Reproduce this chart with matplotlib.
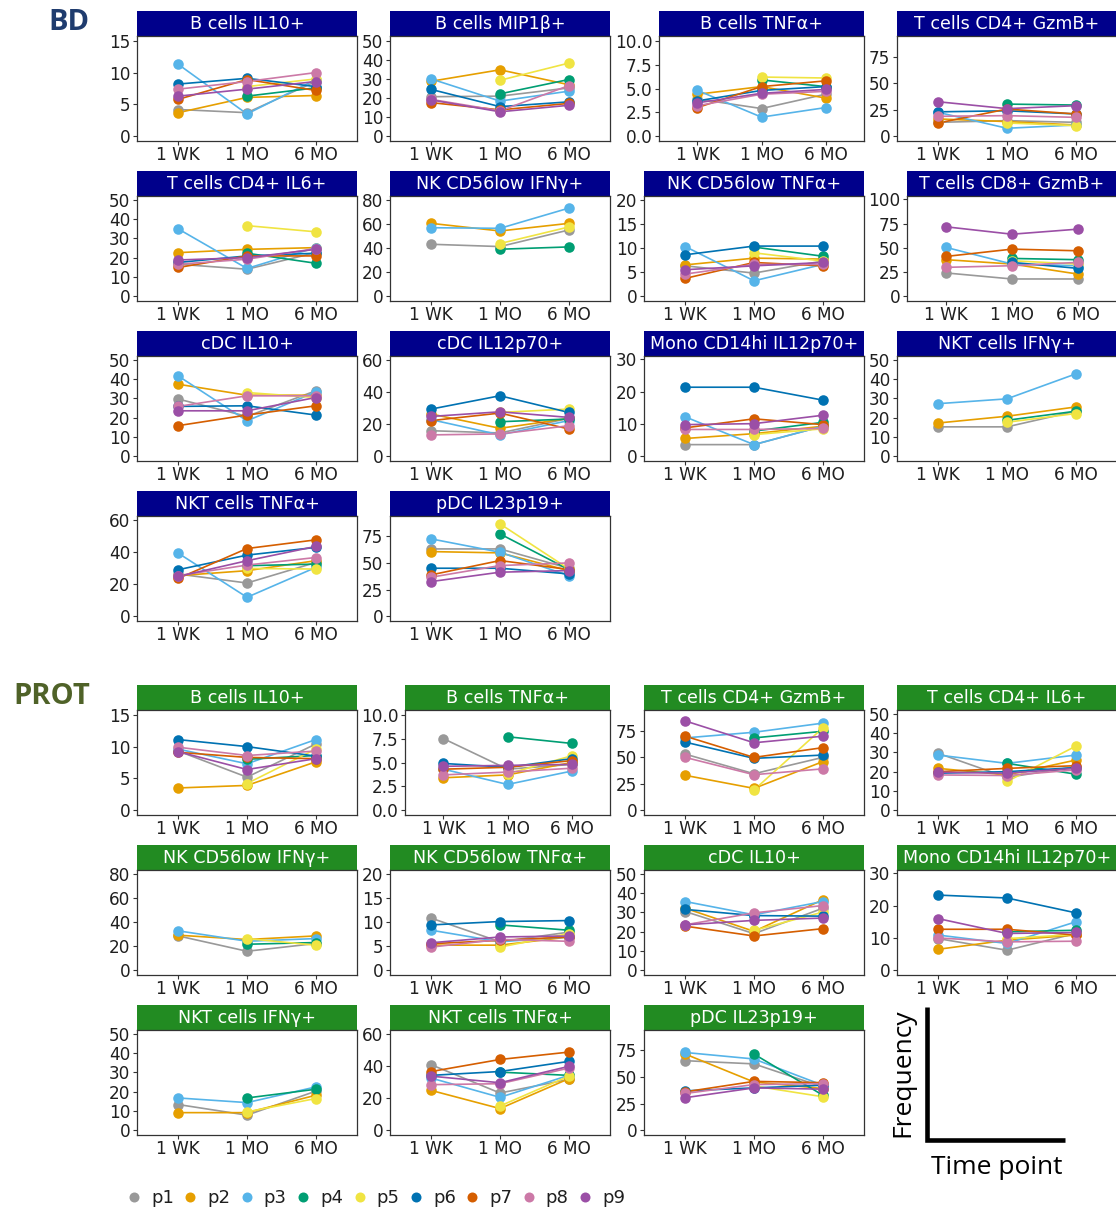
import numpy as np
import matplotlib.pyplot as plt

nan = np.nan

times = ["1 WK", "1 MO", "6 MO"]
patients = ["p1", "p2", "p3", "p4", "p5", "p6", "p7", "p8", "p9"]
colors = ["#999999", "#E69F00", "#56B4E9", "#009E73", "#F0E442",
          "#0072B2", "#D55E00", "#CC79A7", "#9B4FA6"]

# each table: one row per patient (p1..p9), columns 1 WK, 1 MO, 6 MO
# ---------------- BD ----------------
bd_bcell_il10 = [[4.2, 3.7, 8.6], [3.7, 6.1, 6.4], [11.3, 3.5, 8.9],
                 [nan, 6.3, 7.6], [nan, 7.8, 9.0], [8.2, 9.1, 7.8],
                 [5.8, 8.9, 7.2], [7.4, 8.6, 10.0], [6.3, 7.4, 8.6]]
bd_bcell_mip1b = [[20.7, 21.0, 25.3], [28.8, 34.8, 27.0], [30.0, 18.4, 23.6],
                  [nan, 22.2, 29.7], [nan, 29.3, 38.3], [24.5, 15.5, 18.0],
                  [17.6, 13.8, 17.2], [19.3, 13.3, 26.5], [19.0, 12.8, 16.2]]
bd_bcell_tnfa = [[3.9, 2.9, 4.4], [4.4, 5.2, 4.0], [4.8, 2.0, 3.0],
                 [nan, 5.9, 5.2], [nan, 6.2, 6.1], [3.7, 4.8, 5.2],
                 [3.0, 5.2, 5.8], [3.2, 4.4, 4.7], [3.5, 4.5, 4.9]]
bd_cd4_gzmb = [[13.1, 14.7, 13.1], [16.3, 13.8, 10.6], [22.5, 7.5, 10.6],
               [nan, 30.3, 29.4], [nan, 12.5, 10.0], [23.0, 24.0, 21.0],
               [12.5, 25.6, 21.0], [18.8, 19.4, 17.8], [32.5, 26.0, 28.8]]
bd_cd4_il6 = [[16.6, 14.0, 22.6], [22.6, 24.3, 25.2], [34.9, 14.4, 25.2],
              [nan, 22.3, 17.1], [nan, 36.6, 33.4], [17.5, 20.9, 22.3],
              [14.9, 20.9, 20.9], [16.6, 19.2, 24.7], [18.8, 20.0, 24.3]]
bd_nk_ifng = [[43.0, 41.1, 54.8], [60.3, 54.0, 60.3], [56.7, 56.2, 72.9],
              [nan, 38.9, 40.8], [nan, 43.6, 57.3], [nan, nan, nan],
              [nan, nan, nan], [nan, nan, nan], [nan, nan, nan]]
bd_nk_tnfa = [[6.3, 4.8, 7.3], [6.5, 7.9, 7.7], [10.3, 3.2, 6.6],
              [nan, 10.2, 8.3], [nan, 9.0, 7.3], [8.6, 10.4, 10.4],
              [3.7, 7.0, 6.3], [4.6, 6.6, 6.6], [5.5, 6.3, 7.0]]
bd_cd8_gzmb = [[24.0, 17.8, 17.8], [37.7, 33.2, 22.9], [50.3, 33.2, 31.5],
               [nan, 39.0, 37.7], [nan, 36.6, 33.2], [nan, 34.9, 28.8],
               [41.1, 48.6, 46.9], [29.8, 31.5, 34.9], [71.6, 64.0, 69.2]]
bd_cdc_il10 = [[29.7, 20.7, 34.0], [37.4, 31.7, 31.7], [41.7, 18.4, 33.4],
               [nan, nan, nan], [nan, 33.1, 30.5], [25.9, 26.2, 21.4],
               [15.9, 21.4, 26.2], [25.9, 31.4, 31.4], [23.6, 23.6, 30.5]]
bd_cdc_il12 = [[15.9, 14.5, 23.6], [26.3, 17.4, 23.6], [22.8, 13.3, 22.2],
               [nan, 21.5, 23.2], [nan, 27.3, 29.4], [29.4, 37.7, 27.3],
               [22.2, 26.9, 17.0], [13.3, 13.9, 19.0], [24.8, 27.7, 24.2]]
bd_mono_il12 = [[3.6, 3.6, 9.3], [5.5, 7.0, 9.3], [12.2, 3.6, 9.3],
                [nan, 7.8, 10.5], [nan, 6.7, 8.5], [21.4, 21.4, 17.4],
                [8.8, 11.6, 9.8], [8.3, 8.3, 8.6], [9.8, 10.1, 12.7]]
bd_nkt_ifng = [[15.2, 15.2, 23.3], [17.2, 20.7, 25.5], [27.2, 29.7, 42.6],
               [nan, 18.6, 23.3], [nan, 17.6, 22.1], [nan, nan, nan],
               [nan, nan, nan], [nan, nan, nan], [nan, nan, nan]]
bd_nkt_tnfa = [[26.3, 20.7, 33.5], [25.3, 28.4, 34.6], [39.3, 11.8, 30.4],
               [nan, 31.5, 32.5], [nan, 29.8, 29.4], [29.0, 38.1, 42.9],
               [23.6, 42.2, 47.6], [25.3, 31.9, 36.6], [24.8, 34.6, 43.5]]
bd_pdc_il23 = [[63.1, 63.1, 45.0], [60.6, 59.4, 42.8], [72.5, 60.0, 38.1],
               [nan, 77.2, 43.8], [nan, 86.6, 44.4], [45.0, 45.0, 39.7],
               [38.8, 52.2, 43.8], [36.6, 47.5, 50.0], [32.5, 41.3, 42.8]]

# ---------------- PROT ----------------
prot_bcell_il10 = [[9.3, 5.2, 10.4], [3.5, 3.9, 7.6], [9.6, 7.3, 11.1],
                   [nan, 8.0, 8.6], [nan, 4.2, 9.6], [11.1, 10.0, 8.5],
                   [9.1, 8.3, 8.1], [9.9, 8.6, 9.3], [9.2, 6.4, 8.1]]
prot_bcell_tnfa = [[7.5, 4.3, 4.8], [3.4, 3.7, 5.0], [4.3, 2.7, 4.1],
                   [nan, 7.7, 7.0], [nan, 3.8, 5.7], [4.9, 4.5, 5.4],
                   [4.3, 4.5, 5.2], [3.7, 4.0, 4.4], [4.6, 4.7, 4.8]]
prot_cd4_gzmb = [[52.9, 34.4, 49.8], [32.9, 20.6, 45.8], [68.2, 73.5, 82.1],
                 [nan, 68.2, 74.4], [nan, 19.1, 77.5], [64.2, 48.9, 52.0],
                 [69.8, 49.8, 59.0], [49.8, 33.5, 39.0], [84.2, 63.6, 69.8]]
prot_cd4_il6 = [[29.5, 17.0, 22.6], [21.7, 18.3, 26.0], [28.6, 24.3, 28.6],
                [nan, 24.3, 18.7], [nan, 14.9, 33.2], [19.2, 20.0, 22.1],
                [20.0, 21.7, 23.1], [18.3, 18.0, 20.9], [19.7, 19.2, 21.7]]
prot_nk_ifng = [[28.4, 15.7, 22.1], [29.0, 25.4, 28.4], [32.6, 24.0, 26.2],
                [nan, 21.5, 22.9], [nan, 26.2, 20.7], [nan, nan, nan],
                [nan, nan, nan], [nan, nan, nan], [nan, nan, nan]]
prot_nk_tnfa = [[10.8, 5.9, 7.9], [5.2, 5.2, 6.9], [8.3, 5.9, 6.9],
                [nan, 9.4, 8.3], [nan, 4.8, 7.6], [9.4, 10.1, 10.3],
                [5.5, 6.2, 6.9], [4.8, 6.4, 6.0], [5.7, 6.9, 7.1]]
prot_cdc_il10 = [[30.5, 19.0, 32.2], [32.2, 20.2, 36.6], [35.7, 28.8, 35.7],
                 [nan, nan, nan], [nan, 20.7, 30.2], [31.6, 28.4, 28.1],
                 [22.9, 17.8, 21.6], [23.6, 29.8, 33.6], [23.6, 25.9, 27.1]]
prot_mono_il12 = [[9.8, 6.2, 11.4], [6.5, 9.3, 10.9], [10.9, 8.3, 15.0],
                  [nan, 11.9, 12.4], [nan, 9.8, 11.1], [23.3, 22.4, 17.8],
                  [12.7, 12.7, 10.9], [10.0, 8.8, 9.0], [16.0, 11.4, 11.7]]
prot_nkt_ifng = [[13.3, 7.8, 20.2], [9.1, 9.1, 18.1], [16.7, 14.3, 22.4],
                 [nan, 16.7, 21.2], [nan, 9.5, 16.4], [nan, nan, nan],
                 [nan, nan, nan], [nan, nan, nan], [nan, nan, nan]]
prot_nkt_tnfa = [[40.8, 23.2, 31.7], [24.8, 13.5, 32.1], [32.5, 20.5, 34.2],
                 [nan, 36.2, 34.2], [nan, 15.1, 33.7], [34.2, 36.6, 42.9],
                 [36.6, 44.1, 48.7], [28.4, 29.0, 38.7], [33.7, 29.6, 39.8]]
prot_pdc_il23 = [[65.2, 62.2, 40.6], [71.4, 45.2, 39.1], [72.9, 66.8, 42.2],
                 [nan, 71.4, 32.9], [nan, 41.5, 31.4], [36.9, 39.7, 42.2],
                 [36.0, 45.8, 44.6], [34.5, 42.8, 43.7], [30.5, 39.7, 38.5]]

# y scale tops (data max) and tick values per cell type
t15 = [0, 5, 10, 15]
t10 = [0, 2.5, 5, 7.5, 10]
t50 = [0, 10, 20, 30, 40, 50]
t75 = [0, 25, 50, 75]
t80 = [0, 20, 40, 60, 80]
t20 = [0, 5, 10, 15, 20]
t100 = [0, 25, 50, 75, 100]
t60 = [0, 20, 40, 60]
t30 = [0, 10, 20, 30]

bd_panels = [
    ("B cells IL10+", bd_bcell_il10, 15, t15),
    ("B cells MIP1\u03b2+", bd_bcell_mip1b, 50, t50),
    ("B cells TNF\u03b1+", bd_bcell_tnfa, 10, t10),
    ("T cells CD4+ GzmB+", bd_cd4_gzmb, 90, t75),
    ("T cells CD4+ IL6+", bd_cd4_il6, 49.5, t50),
    ("NK CD56low IFN\u03b3+", bd_nk_ifng, 79, t80),
    ("NK CD56low TNF\u03b1+", bd_nk_tnfa, 19.8, t20),
    ("T cells CD8+ GzmB+", bd_cd8_gzmb, 98.5, t100),
    ("cDC IL10+", bd_cdc_il10, 49.6, t50),
    ("cDC IL12p70+", bd_cdc_il12, 59.5, t60),
    ("Mono CD14hi IL12p70+", bd_mono_il12, 29.6, t30),
    ("NKT cells IFN\u03b3+", bd_nkt_ifng, 49.4, t50),
    ("NKT cells TNF\u03b1+", bd_nkt_tnfa, 59.5, t60),
    ("pDC IL23p19+", bd_pdc_il23, 89.5, t75),
]
prot_panels = [
    ("B cells IL10+", prot_bcell_il10, 15, t15),
    ("B cells TNF\u03b1+", prot_bcell_tnfa, 10, t10),
    ("T cells CD4+ GzmB+", prot_cd4_gzmb, 90, t75),
    ("T cells CD4+ IL6+", prot_cd4_il6, 49.5, t50),
    ("NK CD56low IFN\u03b3+", prot_nk_ifng, 79, t80),
    ("NK CD56low TNF\u03b1+", prot_nk_tnfa, 19.8, t20),
    ("cDC IL10+", prot_cdc_il10, 49.6, t50),
    ("Mono CD14hi IL12p70+", prot_mono_il12, 29.6, t30),
    ("NKT cells IFN\u03b3+", prot_nkt_ifng, 49.4, t50),
    ("NKT cells TNF\u03b1+", prot_nkt_tnfa, 59.5, t60),
    ("pDC IL23p19+", prot_pdc_il23, 89.5, t75),
]

# ---------------- layout (pixels) ----------------
W, H = 1116, 1211
fig = plt.figure(figsize=(W / 100, H / 100), dpi=100)
plt.rcParams['font.family'] = 'DejaVu Sans'

col_right = [357, 610, 864, 1117]
cell_w = 253
STRIP_H, PLOT_H = 25, 105
bd_rows = [11, 171, 331, 491]
prot_rows = [685, 845, 1005]
text_col = '#1f1f1f'


def px_axes(x0, y0, w, h):
    return fig.add_axes([x0 / W, 1 - (y0 + h) / H, w / W, h / H])


def fmt(ticks):
    if any(t != int(t) for t in ticks):
        return [f"{t:.1f}" for t in ticks]
    return [str(int(t)) for t in ticks]


def draw_panel(col, top, title, data, ymax, ticks, strip_color):
    labels = fmt(ticks)
    widest = max(len(s) for s in labels)
    left = col_right[col] - cell_w + {1: 25, 2: 33, 3: 43, 4: 48}[widest]
    width = col_right[col] - left

    sax = px_axes(left, top, width, STRIP_H)
    sax.set_facecolor(strip_color)
    sax.set_xticks([])
    sax.set_yticks([])
    for s in sax.spines.values():
        s.set_visible(False)
    sax.text(0.5, 0.47, title, color='white', fontsize=12.6,
             ha='center', va='center', transform=sax.transAxes)

    ax = px_axes(left, top + STRIP_H, width, PLOT_H)
    x = np.arange(1, 4)
    vals = np.array(data, dtype=float)
    for i in range(len(patients)):
        ax.plot(x, vals[i], color=colors[i], lw=1.2, zorder=2)
    for i in range(len(patients)):
        ax.plot(x, vals[i], 'o', color=colors[i], ms=7.6, mew=0, zorder=3)
    ax.set_xlim(0.4, 3.6)
    ax.set_ylim(-0.05 * ymax, 1.05 * ymax)
    ax.set_xticks(x, times)
    ax.set_yticks(ticks, labels)
    ax.tick_params(length=3.2, width=0.8, color='#333333', labelsize=12.2,
                   labelcolor=text_col)
    ax.tick_params(axis='y', pad=1.5)
    ax.tick_params(axis='x', pad=0.5)
    for s in ax.spines.values():
        s.set_color('#333333')
        s.set_linewidth(0.9)


for k, (title, data, ymax, ticks) in enumerate(bd_panels):
    draw_panel(k % 4, bd_rows[k // 4], title, data, ymax, ticks, '#00008B')
for k, (title, data, ymax, ticks) in enumerate(prot_panels):
    draw_panel(k % 4, prot_rows[k // 4], title, data, ymax, ticks, '#228B22')

# overlay for labels, legend and the axis key
ov = fig.add_axes([0, 0, 1, 1], facecolor='none')
ov.set_xlim(0, W)
ov.set_ylim(H, 0)
ov.axis('off')

ov.text(69, 22, "BD", fontsize=21, fontweight='bold', color='#1F3C6E',
        ha='center', va='center', family='Open Sans')
ov.text(52, 696, "PROT", fontsize=21, fontweight='bold', color='#4F6228',
        ha='center', va='center', family='Open Sans')

for i, p in enumerate(patients):
    lx = 134 + 56.4 * i
    ov.plot([lx], [1197], 'o', color=colors[i], ms=7.2, mew=0)
    ov.text(lx + 17, 1198, p, fontsize=13, color=text_col, ha='left', va='center')

ov.plot([927, 927, 1065], [1007, 1140, 1140], color='black', lw=3.3,
        solid_joinstyle='miter', solid_capstyle='butt')
ov.text(903, 1073, "Frequency", rotation=90, fontsize=19, family='Open Sans',
        ha='center', va='center', color='black')
ov.text(997, 1168, "Time point", fontsize=19, family='Open Sans',
        ha='center', va='center', color='black')

fig.savefig("out.png", dpi=100)
